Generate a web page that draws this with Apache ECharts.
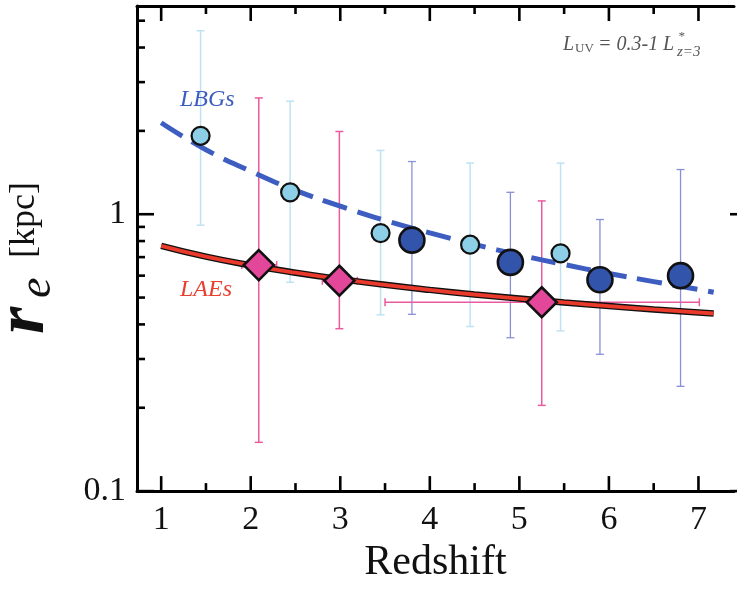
<!DOCTYPE html>
<html><head><meta charset="utf-8">
<script src="https://cdn.jsdelivr.net/npm/echarts@6/dist/echarts.min.js"></script>
<style>html,body{margin:0;padding:0;background:#fff;overflow:hidden}#c{width:737px;height:589px}</style>
</head><body><div id="c"></div>
<script>
// ---- data ----
const lbgSmallZ  = [1.44, 2.44, 3.45, 4.45, 5.46];
const lbgSmallR  = [1.92, 1.20, 0.855, 0.776, 0.722];
const lbgSmallLo = [0.913, 0.568, 0.433, 0.393, 0.379];
const lbgSmallHi = [4.60, 2.56, 1.70, 1.53, 1.53];

const lbgBigZ  = [3.80, 4.90, 5.90, 6.80];
const lbgBigR  = [0.806, 0.670, 0.580, 0.600];
const lbgBigLo = [0.435, 0.358, 0.312, 0.239];
const lbgBigHi = [1.55, 1.20, 0.957, 1.45];

const laeZ   = [2.09, 2.99, 5.25];
const laeR   = [0.655, 0.575, 0.481];
const laeLo  = [0.150, 0.386, 0.204];
const laeHi  = [2.63, 1.99, 1.117];
const laeZLo = [1.90, 2.80, 3.50];
const laeZHi = [2.29, 3.19, 7.01];

const lbgFitZ = [1.0, 1.5, 2.0, 2.5, 3.0, 3.5, 4.0, 4.5, 5.0, 5.5, 6.0, 6.5, 7.17];
const lbgFitR = [2.14, 1.71, 1.43, 1.22, 1.07, 0.95, 0.856, 0.778, 0.713, 0.658, 0.611, 0.571, 0.523];
const laeFitZ = [1.0, 1.5, 2.0, 2.5, 3.0, 3.5, 4.0, 4.5, 5.0, 5.5, 6.0, 6.5, 7.17];
const laeFitR = [0.769, 0.703, 0.654, 0.615, 0.583, 0.556, 0.533, 0.513, 0.496, 0.480, 0.466, 0.453, 0.438];

const xMajorTicks = [1, 2, 3, 4, 5, 6, 7];
const xMinorTicks = [1.5, 2.5, 3.5, 4.5, 5.5, 6.5];
const yMajorTicks = [0.1, 1];
const yMinorTicks = [0.2, 0.3, 0.4, 0.5, 0.6, 0.7, 0.8, 0.9, 2, 3, 4, 5];
const xTickLabels = ['1', '2', '3', '4', '5', '6', '7'];
const yTickLabels = ['0.1', '1'];

// ---- helpers ----
const serif = '"Liberation Serif", "Times New Roman", serif';
const zip = (...a) => a[0].map((_, i) => a.map(x => x[i]));

function vErr(color, w, cap) {
  return function (params, api) {
    const z = api.value(0), lo = api.value(1), hi = api.value(2);
    const a = api.coord([z, lo]), b = api.coord([z, hi]);
    const st = { stroke: color, lineWidth: w };
    return { type: 'group', children: [
      { type: 'line', shape: { x1: a[0], y1: a[1], x2: b[0], y2: b[1] }, style: st },
      { type: 'line', shape: { x1: a[0] - cap, y1: a[1], x2: a[0] + cap, y2: a[1] }, style: st },
      { type: 'line', shape: { x1: b[0] - cap, y1: b[1], x2: b[0] + cap, y2: b[1] }, style: st }
    ]};
  };
}
function hErr(color, w, cap) {
  return function (params, api) {
    const r = api.value(1), zl = api.value(2), zh = api.value(3);
    const a = api.coord([zl, r]), b = api.coord([zh, r]);
    const st = { stroke: color, lineWidth: w };
    return { type: 'group', children: [
      { type: 'line', shape: { x1: a[0], y1: a[1], x2: b[0], y2: b[1] }, style: st },
      { type: 'line', shape: { x1: a[0], y1: a[1] - cap, x2: a[0], y2: a[1] + cap }, style: st },
      { type: 'line', shape: { x1: b[0], y1: b[1] - cap, x2: b[0], y2: b[1] + cap }, style: st }
    ]};
  };
}
function xTicks(len) {
  return function (params, api) {
    const cs = params.coordSys;
    const x = api.coord([api.value(0), 1])[0];
    const st = { stroke: '#000', lineWidth: 2.6 };
    const yb = cs.y + cs.height, yt = cs.y;
    return { type: 'group', children: [
      { type: 'line', shape: { x1: x, y1: yb, x2: x, y2: yb - len }, style: st },
      { type: 'line', shape: { x1: x, y1: yt, x2: x, y2: yt + len }, style: st }
    ]};
  };
}
function yTicks(len) {
  return function (params, api) {
    const cs = params.coordSys;
    const y = api.coord([1, api.value(1)])[1];
    const st = { stroke: '#000', lineWidth: 2.6 };
    const xl = cs.x, xr = api.getWidth() + 12; // right frame sits just outside the picture
    return { type: 'group', children: [
      { type: 'line', shape: { x1: xl, y1: y, x2: xl + len, y2: y }, style: st },
      { type: 'line', shape: { x1: xr, y1: y, x2: xr - len - 2, y2: y }, style: st }
    ]};
  };
}
function txt(x, y, text, size, fill, extra) {
  return { type: 'text', x: x, y: y, z: 20, style: Object.assign({
    text: text, fontFamily: serif, fontSize: size, fill: fill,
    textAlign: 'left', textVerticalAlign: 'middle', align: 'left', verticalAlign: 'middle'
  }, extra || {}) };
}
const frameLine = { show: true, onZero: false, lineStyle: { color: '#000', width: 3 } };

const chart = echarts.init(document.getElementById('c'), null, { renderer: 'canvas' });
chart.setOption({
  animation: false,
  backgroundColor: '#fff',
  grid: { left: 137, top: 6, right: 0, bottom: 96, show: false },
  xAxis: [{
    type: 'value', min: 0.73, max: 7.397, splitNumber: 7, position: 'bottom',
    axisLine: frameLine, axisTick: { show: false }, splitLine: { show: false },
    axisLabel: {
      margin: 12, fontFamily: serif, fontSize: 34, color: '#111',
      formatter: v => { const s = String(Math.round(v)); return (Math.abs(v - Math.round(v)) < 1e-6 && xTickLabels.includes(s)) ? s : ''; }
    },
    name: 'Redshift', nameLocation: 'middle', nameGap: 50,
    nameTextStyle: { fontFamily: serif, fontSize: 42, color: '#111' }
  }, {
    type: 'value', min: 0.73, max: 7.397, position: 'top',
    axisLine: frameLine, axisTick: { show: false }, axisLabel: { show: false }, splitLine: { show: false }
  }],
  yAxis: {
    type: 'log', logBase: 10, min: 0.1, max: 5.65,
    axisLine: frameLine, axisTick: { show: false }, splitLine: { show: false }, minorTick: { show: false },
    axisLabel: {
      margin: 11, fontFamily: serif, fontSize: 34, color: '#111',
      formatter: v => { for (const s of yTickLabels) { if (Math.abs(v - parseFloat(s)) < 1e-9) return s; } return ''; }
    }
  },
  series: [
    { type: 'custom', z: 2, data: zip(lbgSmallZ, lbgSmallLo, lbgSmallHi), renderItem: vErr('#bfe2f2', 1.5, 4) },
    { type: 'custom', z: 2, data: zip(lbgBigZ, lbgBigLo, lbgBigHi), renderItem: vErr('#8891d6', 1.3, 4) },
    { type: 'custom', z: 2, data: zip(laeZ, laeLo, laeHi), renderItem: vErr('#ea5a9e', 1.5, 4) },
    { type: 'custom', z: 2, data: zip(laeZ, laeR, laeZLo, laeZHi), renderItem: hErr('#ea5a9e', 1.5, 4) },
    { type: 'line', z: 3, data: zip(laeFitZ, laeFitR), showSymbol: false, smooth: true,
      lineStyle: { color: '#111', width: 6.5 } },
    { type: 'line', z: 4, data: zip(laeFitZ, laeFitR), showSymbol: false, smooth: true,
      lineStyle: { color: '#ea3a2c', width: 3.8 } },
    { type: 'line', z: 4, data: zip(lbgFitZ, lbgFitR), showSymbol: false, smooth: true,
      lineStyle: { color: '#3d5ec0', width: 5, type: [25, 11] } },
    { type: 'scatter', z: 6, data: zip(lbgSmallZ, lbgSmallR), symbol: 'circle', symbolSize: 18,
      itemStyle: { color: '#8dcfe7', borderColor: '#111', borderWidth: 2.2, opacity: 1 } },
    { type: 'scatter', z: 6, data: zip(lbgBigZ, lbgBigR), symbol: 'circle', symbolSize: 25,
      itemStyle: { color: '#3354ab', borderColor: '#111', borderWidth: 2.6, opacity: 1 } },
    { type: 'scatter', z: 6, data: zip(laeZ, laeR), symbol: 'diamond', symbolSize: 30,
      itemStyle: { color: '#e2479a', borderColor: '#111', borderWidth: 2.6, opacity: 1 } },
    { type: 'custom', z: 8, data: xMajorTicks.map(v => [v, 1]), renderItem: xTicks(15) },
    { type: 'custom', z: 8, data: xMinorTicks.map(v => [v, 1]), renderItem: xTicks(8) },
    { type: 'custom', z: 8, data: yMajorTicks.map(v => [1, v]), renderItem: yTicks(17) },
    { type: 'custom', z: 8, data: yMinorTicks.map(v => [1, v]), renderItem: yTicks(8) }
  ],
  graphic: [
    { type: 'group', x: 0, y: 334, rotation: Math.PI / 2, children: [
      txt(0, 25, 'r', 70, '#111', { fontStyle: 'italic', fontWeight: 'bold' }),
      txt(36, 38, 'e', 46, '#111', { fontStyle: 'italic' }),
      txt(76, 25, '[kpc]', 36, '#111')
    ]},
    txt(180, 100, 'LBGs', 24, '#3d5cc0', { fontStyle: 'italic' }),
    txt(180, 290, 'LAEs', 24, '#e8402f', { fontStyle: 'italic' }),
    txt(563, 44.5, 'L', 20, '#555', { fontStyle: 'italic' }),
    txt(575, 48.5, 'UV', 13, '#555'),
    txt(598, 44.5, '= 0.3-1', 20, '#555', { fontStyle: 'italic' }),
    txt(663, 44.5, 'L', 20, '#555', { fontStyle: 'italic' }),
    txt(678, 37, '*', 13, '#555', { fontStyle: 'italic' }),
    txt(677, 52, 'z=3', 15, '#555', { fontStyle: 'italic' })
  ]
});
</script></body></html>
